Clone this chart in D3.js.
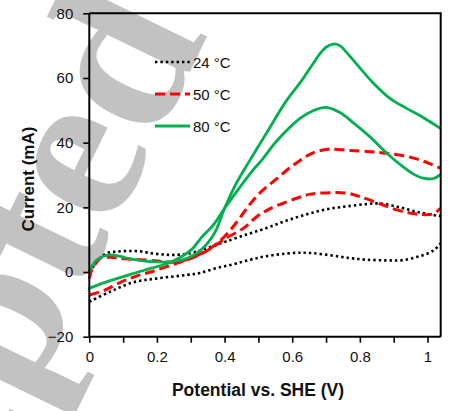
<!DOCTYPE html>
<html><head><meta charset="utf-8">
<script src="https://cdn.jsdelivr.net/npm/d3@7"></script>
<style>body{margin:0;background:#fff}svg{display:block}</style>
</head><body>
<script>
// ---- data ----
const xTicks = [0, 0.2, 0.4, 0.6, 0.8, 1];
const xMinorTicks = [0, 0.1, 0.2, 0.3, 0.4, 0.5, 0.6, 0.7, 0.8, 0.9, 1.0];
const yTicks = [-20, 0, 20, 40, 60, 80];
const legendLabels = ["24 °C", "50 °C", "80 °C"];
const watermarkText = "Accepted";

const t24Upper = [[0,0],[0.02,3],[0.051,5.8],[0.08,6.3],[0.115,6.5],[0.15,6.4],[0.184,5.8],[0.22,5.4],[0.253,5.3],[0.298,5.8],[0.332,6.8],[0.37,8.2],[0.406,9.5],[0.465,11.6],[0.524,13.6],[0.583,15.9],[0.642,17.8],[0.701,19.4],[0.761,20.3],[0.82,21.0],[0.859,21.2],[0.918,20.0],[0.977,18.4],[1.038,17.3]];
const t24Lower = [[0,-9.2],[0.061,-6.1],[0.13,-3.2],[0.199,-2.0],[0.288,-0.9],[0.327,-0.3],[0.376,1.2],[0.426,2.4],[0.475,3.8],[0.524,4.9],[0.603,5.9],[0.652,5.9],[0.711,5.2],[0.771,4.3],[0.82,3.8],[0.879,3.6],[0.928,3.7],[0.977,4.9],[1.017,6.6],[1.038,8.8]];

const t50Upper = [[0,-2],[0.005,0],[0.012,1.6],[0.032,4.2],[0.06,4.6],[0.086,4.3],[0.135,3.9],[0.194,3.5],[0.234,3.0],[0.283,3.7],[0.322,5.3],[0.36,7.5],[0.40,11],[0.44,16],[0.475,21],[0.51,25],[0.55,28.5],[0.59,32],[0.623,34.5],[0.66,36.8],[0.70,37.9],[0.721,38.0],[0.771,37.6],[0.83,37.2],[0.869,36.8],[0.918,36.2],[0.967,35.0],[1.007,33.5],[1.038,32.1]];
const t50Lower = [[0,-7.1],[0.046,-5.6],[0.086,-3.5],[0.135,-1.4],[0.184,0.1],[0.244,2.2],[0.312,4.7],[0.36,7.3],[0.40,10.2],[0.455,13.5],[0.495,17.1],[0.524,19.0],[0.554,20.5],[0.613,22.8],[0.65,24.0],[0.682,24.4],[0.761,24.4],[0.80,23.3],[0.849,21.5],[0.909,19.2],[0.95,18.2],[0.977,17.8],[1.017,18.0],[1.038,19.7]];

const t80Upper = [[0,0],[0.017,3.2],[0.04,4.8],[0.061,5.3],[0.09,4.9],[0.115,4.2],[0.15,3.6],[0.184,3.2],[0.244,3.2],[0.293,4.4],[0.332,7.0],[0.37,12],[0.40,19.7],[0.43,26.5],[0.475,34.6],[0.524,43],[0.583,53],[0.623,58.5],[0.662,64.5],[0.682,67.5],[0.70,69.5],[0.721,70.5],[0.741,70.0],[0.76,68],[0.78,65.6],[0.81,61.9],[0.84,58.4],[0.889,53.7],[0.938,50.6],[0.987,47.8],[1.037,44.5]];
const t80Lower = [[0,-5.0],[0.03,-3.8],[0.086,-1.9],[0.135,-0.3],[0.184,1.2],[0.244,3.2],[0.303,7.0],[0.33,10.5],[0.37,15],[0.40,19.7],[0.44,25.5],[0.484,31.5],[0.51,34.6],[0.554,40.5],[0.623,47.5],[0.66,49.8],[0.70,50.9],[0.741,49.3],[0.78,46.2],[0.83,41.8],[0.879,36.8],[0.928,32.5],[0.96,30.2],[0.987,29.0],[1.017,28.9],[1.037,30.0]];

// ---- layout ----
const W = 474, H = 411;
const L = 89.3, R = 440.7, T = 13.3, B = 336.7;
const svg = d3.select("body").append("svg").attr("width", W).attr("height", H)
  .style("font-family", "'Liberation Sans', Arial, sans-serif");

// watermark (clipped to the picture)
svg.append("defs").append("clipPath").attr("id", "pic").append("rect")
  .attr("width", W).attr("height", H);
svg.append("g").attr("clip-path", "url(#pic)").append("text")
  .attr("transform", "translate(-172,814) rotate(-64)")
  .attr("font-family", "'Liberation Serif', 'DejaVu Serif', serif")
  .attr("font-size", 220)
  .attr("font-weight", "bold")
  .attr("fill", "#c2c2c2")
  .text(watermarkText);

const x = d3.scaleLinear().domain([0, 1.039]).range([L, R]);
const y = d3.scaleLinear().domain([-20, 80]).range([B, T]);

const line = d3.line().x(d => x(d[0])).y(d => y(d[1])).curve(d3.curveCatmullRom.alpha(0.5));

const series = [
  {up: t24Upper, lo: t24Lower, color: "#000000", width: 2.6, dash: "2.4,3", cap: "butt"},
  {up: t50Upper, lo: t50Lower, color: "#ff0000", width: 3, dash: "10,5", cap: "butt"},
  {up: t80Upper, lo: t80Lower, color: "#00b050", width: 2.8, dash: null, cap: "round"}
];

const g = svg.append("g");
series.forEach(s => {
  [s.up, s.lo].forEach(arr => {
    g.append("path").datum(arr).attr("d", line)
      .attr("fill", "none").attr("stroke", s.color)
      .attr("stroke-width", s.width)
      .attr("stroke-dasharray", s.dash)
      .attr("stroke-linecap", s.cap);
  });
});

// frame
svg.append("path").attr("d", `M${L},${T}H${R}V${B}`).attr("fill", "none").attr("stroke", "#000").attr("stroke-width", 2);

// axes
const yAxis = svg.append("g").attr("transform", `translate(${L},0)`)
  .call(d3.axisLeft(y).tickValues(yTicks).tickSize(6).tickPadding(10).tickFormat(d3.format("d")));
const xAxis = svg.append("g").attr("transform", `translate(0,${B})`)
  .call(d3.axisBottom(x).tickValues(xMinorTicks).tickSize(6).tickPadding(9)
    .tickFormat(d => xTicks.some(t => Math.abs(t - d) < 1e-9) ? d3.format("")(+d.toFixed(1)) : ""));
[yAxis, xAxis].forEach(a => {
  a.select(".domain").attr("stroke-width", 2).attr("stroke", "#000");
  a.selectAll(".tick line").attr("stroke-width", 1.6).attr("stroke", "#000");
  a.selectAll("text").attr("font-size", 15).attr("fill", "#111").attr("font-family", "'Liberation Sans', Arial, sans-serif");
});
xAxis.select(".domain").attr("d", `M${L},0H${R}`);
yAxis.select(".domain").attr("d", `M0,${B}V${T}`);

// axis titles
svg.append("text").attr("x", 258).attr("y", 396).attr("text-anchor", "middle")
  .attr("font-size", 17.5).attr("font-weight", "bold").attr("fill", "#111").text("Potential vs. SHE (V)");
svg.append("text").attr("transform", "translate(34,179) rotate(-90)").attr("text-anchor", "middle")
  .attr("font-size", 17).attr("font-weight", "bold").attr("fill", "#111").text("Current (mA)");

// legend
const legY = [62, 94, 126];
series.forEach((s, i) => {
  svg.append("line").attr("x1", 155).attr("x2", 190).attr("y1", legY[i]).attr("y2", legY[i])
    .attr("stroke", s.color).attr("stroke-width", s.width).attr("stroke-dasharray", s.dash);
  svg.append("text").attr("x", 193).attr("y", legY[i] + 5.5).attr("font-size", 15).attr("fill", "#111")
    .text(legendLabels[i]);
});
</script>
</body></html>
